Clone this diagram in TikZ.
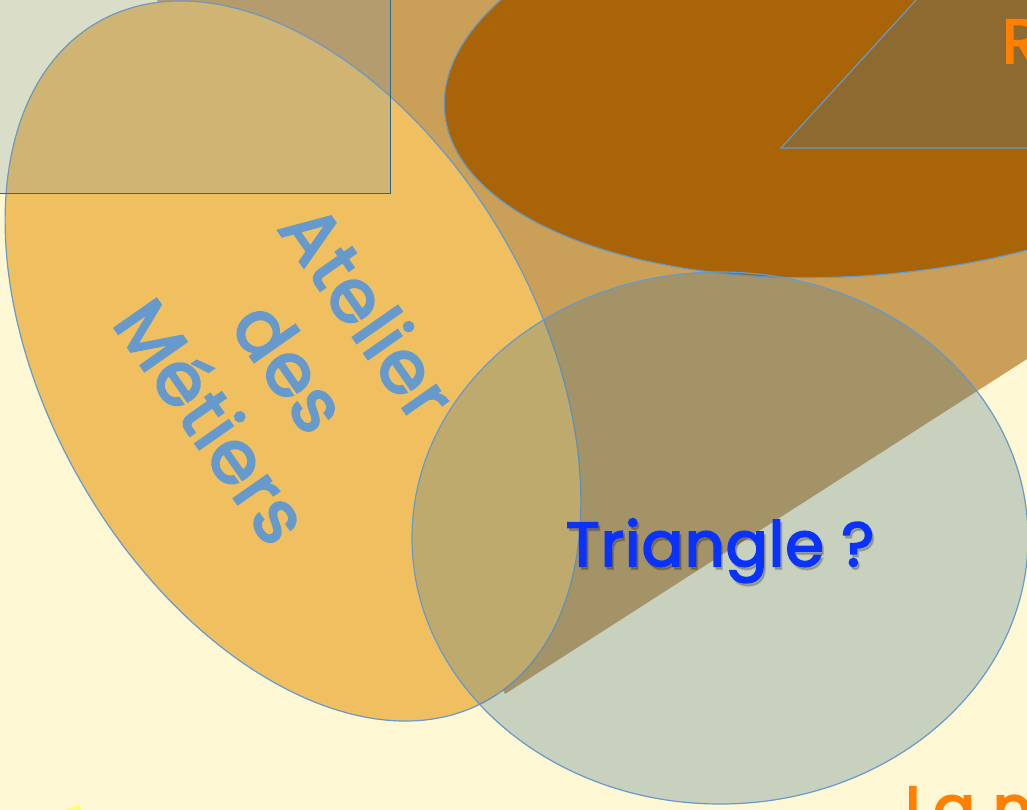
\documentclass[tikz,border=0pt]{standalone}
\usepackage{fontspec}
\newfontfamily\craie{Poppins}[FakeBold=3.2, LetterSpace=2]

\definecolor{fond}{HTML}{FDF8D3}
\definecolor{ocre}{HTML}{A86406}
\definecolor{orangeclair}{HTML}{F0C060}
\definecolor{bordbleu}{HTML}{6699CC}
\definecolor{grisbleu}{RGB}{80,121,143}
\definecolor{voilecadre}{RGB}{125,150,170}
\definecolor{bordcadre}{HTML}{2B6790}
\definecolor{bleuvif}{HTML}{0A32FF}
\definecolor{orangetexte}{HTML}{FF8000}
\definecolor{jaune}{HTML}{FFFF66}

\tikzset{
  bulle/.style={draw=bordbleu, line width=1.2pt},
  voile/.style={fill=grisbleu, fill opacity=0.3},
  titre/.style={font=\craie\fontsize{62}{76}\selectfont, inner sep=0pt}
}

\begin{document}
\begin{tikzpicture}[x=1pt, y=-1pt]
% Cadre de l'image
\path[use as bounding box] (0,0) rectangle (1027,810);
\clip (0,0) rectangle (1027,810);
\fill[fond] (0,0) rectangle (1027,810);

% Grand triangle brun translucide
\fill[ocre, fill opacity=0.6] (505,694) -- (1549,24) -- (-191,-694) -- cycle;

% Ellipse orange et ellipse brune
\filldraw[bulle, fill=orangeclair, rotate around={-60:(293,361)}] (293,361) ellipse [x radius=391, y radius=244];
\filldraw[bulle, fill=ocre, rotate around={5:(868,75)}] (868,75) ellipse [x radius=425, y radius=200];

% Petit triangle dans l'ellipse brune
\filldraw[bulle, voile] (781,148) -- (1053,-150) -- (1350,148) -- cycle;

% Texte de l'ellipse orange
\node[rotate=-55, align=center, text=bordbleu, inner sep=0pt,
      font=\craie\fontsize{74}{95}\selectfont] (atelier) at (291,366) {Atelier\\des\\Métiers};

% Ellipse gris-bleu
\filldraw[bulle, voile] (720,538) ellipse [x radius=308, y radius=266];

% Rectangle en haut a gauche
\filldraw[draw=bordcadre, line width=0.8pt, fill=voilecadre, fill opacity=0.27] (-5,-5) rectangle (390,193);

% Textes
\node[titre, text=black, opacity=0.18, anchor=base] (ombre) at (722,569) {Triangle ?};
\node[titre, text=bleuvif, anchor=base] (triangle) at (720,566) {Triangle ?};
\node[titre, text=orangetexte, anchor=base west] (regle) at (1002,63) {R};
\node[titre, text=orangetexte, anchor=base west] (lanotion) at (905,830) {La n};

% Pointe jaune en bas a gauche
\fill[jaune] (66,810) -- (79,805) -- (81,810) -- cycle;
\end{tikzpicture}
\end{document}
